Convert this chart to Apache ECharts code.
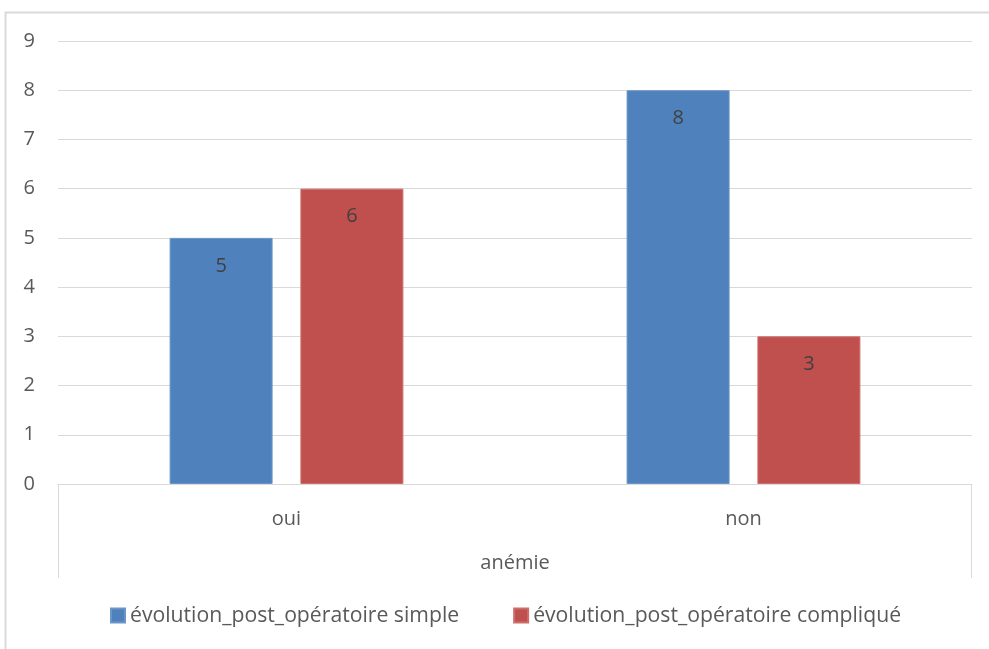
<!DOCTYPE html>
<html>
<head>
<meta charset="utf-8">
<script src="https://cdn.jsdelivr.net/npm/echarts@6/dist/echarts.min.js"></script>
<style>
  html, body { margin: 0; padding: 0; background: #ffffff; }
  #chart { width: 989px; height: 649px; }
</style>
</head>
<body>
<div id="chart"></div>
<script>
// Post-operative outcome by anaemia status
const categories = ['oui', 'non'];
const seriesNames = ['évolution_post_opératoire simple', 'évolution_post_opératoire compliqué'];
const simpleValues = [5, 8];
const compliqueValues = [6, 3];
const yTicks = [0, 9, 1]; // min, max, interval
const axisName = 'anémie';

const FONT = '"Open Sans", "Liberation Sans", sans-serif';
const TEXT = '#595959';
const GRID = '#d9d9d9';
const FS = 20;

const chart = echarts.init(document.getElementById('chart'));

const barLabel = {
  show: true,
  position: 'insideTop',
  distance: 18,
  color: '#404040',
  fontSize: FS,
  fontFamily: FONT
};

chart.setOption({
  animation: false,
  backgroundColor: '#ffffff',
  textStyle: { fontFamily: FONT, color: TEXT },
  grid: { left: 58, right: 17, top: 41, bottom: 165, containLabel: false },
  legend: {
    top: 600,
    left: 105,
    icon: 'rect',
    itemWidth: 14,
    itemHeight: 14,
    itemGap: 54,
    textStyle: { fontSize: 21.2, color: TEXT, fontFamily: FONT },
    data: seriesNames
  },
  xAxis: {
    type: 'category',
    data: categories,
    name: axisName,
    nameLocation: 'middle',
    nameGap: 69,
    nameTextStyle: { fontSize: FS, color: TEXT, fontFamily: FONT },
    axisLine: { show: true, lineStyle: { color: GRID, width: 1 } },
    axisTick: { show: false },
    axisLabel: { margin: 25, fontSize: FS, color: TEXT, fontFamily: FONT }
  },
  yAxis: {
    type: 'value',
    min: yTicks[0],
    max: yTicks[1],
    interval: yTicks[2],
    axisLine: { show: false },
    axisTick: { show: false },
    axisLabel: { margin: 23, fontSize: FS, color: TEXT, fontFamily: FONT },
    splitLine: { lineStyle: { color: GRID, width: 1 } }
  },
  series: [
    {
      name: seriesNames[0],
      type: 'bar',
      data: simpleValues,
      barWidth: 103,
      barGap: '27%',
      itemStyle: { color: '#4f81bd', borderColor: '#6c95c8', borderWidth: 1 },
      label: barLabel
    },
    {
      name: seriesNames[1],
      type: 'bar',
      data: compliqueValues,
      barWidth: 103,
      barGap: '27%',
      itemStyle: { color: '#c0504d', borderColor: '#cc6e6b', borderWidth: 1 },
      label: barLabel
    }
  ],
  graphic: [
    // outer chart frame
    {
      type: 'rect',
      shape: { x: 5.5, y: 12.5, width: 1100, height: 800 },
      style: { fill: 'none', stroke: '#d9d9d9', lineWidth: 2 },
      silent: true, z: -1
    },
    // category group brackets at both ends of the axis
    {
      type: 'line',
      shape: { x1: 58.5, y1: 484, x2: 58.5, y2: 578 },
      style: { stroke: GRID, lineWidth: 1 },
      silent: true
    },
    {
      type: 'line',
      shape: { x1: 971.5, y1: 484, x2: 971.5, y2: 578 },
      style: { stroke: GRID, lineWidth: 1 },
      silent: true
    }
  ]
});
</script>
</body>
</html>
